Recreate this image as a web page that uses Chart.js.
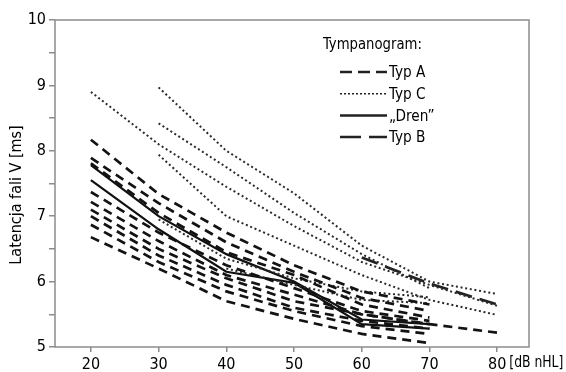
<!DOCTYPE html>
<html>
<head>
<meta charset="utf-8">
<script src="https://cdn.jsdelivr.net/npm/chart.js@4.4.0/dist/chart.umd.min.js"></script>
<style>
  html, body { margin: 0; padding: 0; background: #fff; }
</style>
</head>
<body>
<canvas id="latencjaChart" width="566" height="372"></canvas>
<script>
// Natezenie bodzca [dB nHL]
const intensities = [20, 30, 40, 50, 60, 70, 80];

// Typ A
const typA_1 = [8.17, 7.34, 6.75, 6.25, 5.85, 5.65, null];
const typA_2 = [7.89, 7.20, 6.60, 6.15, 5.75, 5.55, null];
const typA_3 = [7.81, 7.05, 6.45, 6.10, 5.65, 5.45, null];
const typA_4 = [7.37, 6.75, 6.25, 5.90, 5.55, 5.40, null];
const typA_5 = [7.22, 6.62, 6.10, 5.80, 5.50, 5.35, null];
const typA_6 = [7.10, 6.50, 6.05, 5.70, 5.50, 5.35, 5.22];
const typA_7 = [7.00, 6.40, 5.95, 5.60, 5.40, 5.28, null];
const typA_8 = [6.87, 6.30, 5.85, 5.55, 5.32, 5.20, null];
const typA_9 = [6.68, 6.20, 5.70, 5.43, 5.20, 5.06, null];

// Typ C
const typC_1 = [8.90, 8.10, 7.45, 6.85, 6.30, 5.95, 5.63];
const typC_2 = [null, 8.97, 8.00, 7.35, 6.55, 6.00, 5.81];
const typC_3 = [null, 8.42, 7.75, 7.05, 6.42, 5.90, null];
const typC_4 = [null, 7.94, 7.00, 6.55, 6.10, 5.72, 5.49];
const typC_5 = [null, 6.95, 6.35, 6.05, 5.85, 5.76, null];
const typC_6 = [null, null, 6.20, 5.95, 5.72, 5.67, null];

// "Dren"
const dren_1 = [7.78, 7.00, 6.42, 6.00, 5.42, 5.35, null];
const dren_2 = [7.55, 6.80, 6.15, 5.98, 5.35, 5.28, null];

// Typ B
const typB_1 = [null, null, null, null, 6.37, 5.97, 5.65];

const yTicks = [5, 6, 7, 8, 9, 10];

const FONT = "'Liberation Sans Narrow', 'DejaVu Sans Condensed', sans-serif";

const styles = {
    A: { borderDash: [9, 6], borderWidth: 2.7, borderColor: '#131313' },
    C: { borderDash: [2, 2.7], borderWidth: 2, borderColor: '#2a2a2a' },
    D: { borderDash: [], borderWidth: 2.2, borderColor: '#111' },
    B: { borderDash: [17, 8], borderWidth: 2.7, borderColor: '#222' }
};

function seria(label, values, typ) {
    return Object.assign({
        label: label,
        data: values.map((v, i) => ({ x: intensities[i], y: v })),
        pointRadius: 0,
        tension: 0,
        fill: false,
        spanGaps: false
    }, styles[typ]);
}

const datasets = [
    seria('Typ A', typA_1, 'A'), seria('Typ A', typA_2, 'A'), seria('Typ A', typA_3, 'A'),
    seria('Typ A', typA_4, 'A'), seria('Typ A', typA_5, 'A'), seria('Typ A', typA_6, 'A'),
    seria('Typ A', typA_7, 'A'), seria('Typ A', typA_8, 'A'), seria('Typ A', typA_9, 'A'),
    seria('Typ C', typC_1, 'C'), seria('Typ C', typC_2, 'C'), seria('Typ C', typC_3, 'C'),
    seria('Typ C', typC_4, 'C'), seria('Typ C', typC_5, 'C'), seria('Typ C', typC_6, 'C'),
    seria('„Dren”', dren_1, 'D'), seria('„Dren”', dren_2, 'D'),
    seria('Typ B', typB_1, 'B')
];

const legendItems = [
    { text: 'Typ A', dash: [12, 6], width: 2.5 },
    { text: 'Typ C', dash: [2, 2], width: 1.5 },
    { text: '„Dren”', dash: [], width: 2.5 },
    { text: 'Typ B', dash: [21, 8], width: 2.5 }
];

// tekst zwezony w poziomie
function tekst(ctx, s, x, y, sx) {
    ctx.save();
    ctx.translate(x, y);
    ctx.scale(sx, 1);
    ctx.fillText(s, 0, 0);
    ctx.restore();
}

// ramka wokol obszaru wykresu
const ramka = {
    id: 'ramka',
    beforeDatasetsDraw(chart) {
        const { ctx, chartArea: a } = chart;
        ctx.save();
        ctx.strokeStyle = '#8c8c8c';
        ctx.lineWidth = 1.5;
        ctx.strokeRect(a.left, a.top, a.right - a.left, a.bottom - a.top);
        ctx.restore();
    }
};

// opisy osi + legenda
const opisy = {
    id: 'opisy',
    afterDraw(chart) {
        const { ctx, chartArea: a, scales } = chart;
        ctx.save();
        ctx.fillStyle = '#000';
        ctx.font = '16px ' + FONT;
        ctx.textBaseline = 'middle';

        // tytul osi Y
        ctx.save();
        ctx.translate(17, 195);
        ctx.rotate(-Math.PI / 2);
        ctx.textAlign = 'center';
        ctx.fillText('Latencja fali V [ms]', 0, 0);
        ctx.restore();

        // jednostka osi X
        ctx.textAlign = 'left';
        const x80 = scales.x.getPixelForValue(80);
        tekst(ctx, '[dB nHL]', x80 + ctx.measureText('80').width / 2 + 3, a.bottom + 16, 0.86);

        // legenda
        tekst(ctx, 'Tympanogram:', a.left + 268, 45, 0.92);
        legendItems.forEach((it, i) => {
            const y = 72 + i * 21.7;
            ctx.beginPath();
            ctx.setLineDash(it.dash);
            ctx.lineWidth = it.width;
            ctx.strokeStyle = '#222';
            ctx.moveTo(340, y);
            ctx.lineTo(387, y);
            ctx.stroke();
            ctx.setLineDash([]);
            tekst(ctx, it.text, 389, y + 1, 0.95);
        });
        ctx.restore();
    }
};

new Chart(document.getElementById('latencjaChart'), {
    type: 'line',
    data: { datasets: datasets },
    plugins: [ramka, opisy],
    options: {
        responsive: false,
        animation: false,
        devicePixelRatio: 1,
        layout: { padding: { top: 20, right: 37, left: 0, bottom: 0 } },
        plugins: { legend: { display: false }, tooltip: { enabled: false } },
        scales: {
            x: {
                type: 'linear',
                min: 14.7,
                max: 84.7,
                afterBuildTicks: s => { s.ticks = intensities.map(v => ({ value: v })); },
                afterFit: s => { s.height = 25; },
                border: { display: false },
                grid: { drawOnChartArea: false, drawTicks: true, tickLength: 5, color: '#8c8c8c', lineWidth: 1.5 },
                ticks: { color: '#000', padding: 3, font: { family: FONT, size: 16 }, autoSkip: false, maxRotation: 0 }
            },
            y: {
                min: 5,
                max: 10,
                afterFit: s => { s.width = 55; },
                border: { display: false },
                grid: { drawOnChartArea: false, drawTicks: true, tickLength: 6, color: '#8c8c8c', lineWidth: 1.5 },
                ticks: {
                    stepSize: 0.5,
                    autoSkip: false,
                    color: '#000',
                    padding: 3,
                    font: { family: FONT, size: 16 },
                    callback: v => yTicks.includes(v) ? v : ''
                }
            }
        }
    }
});
</script>
</body>
</html>
